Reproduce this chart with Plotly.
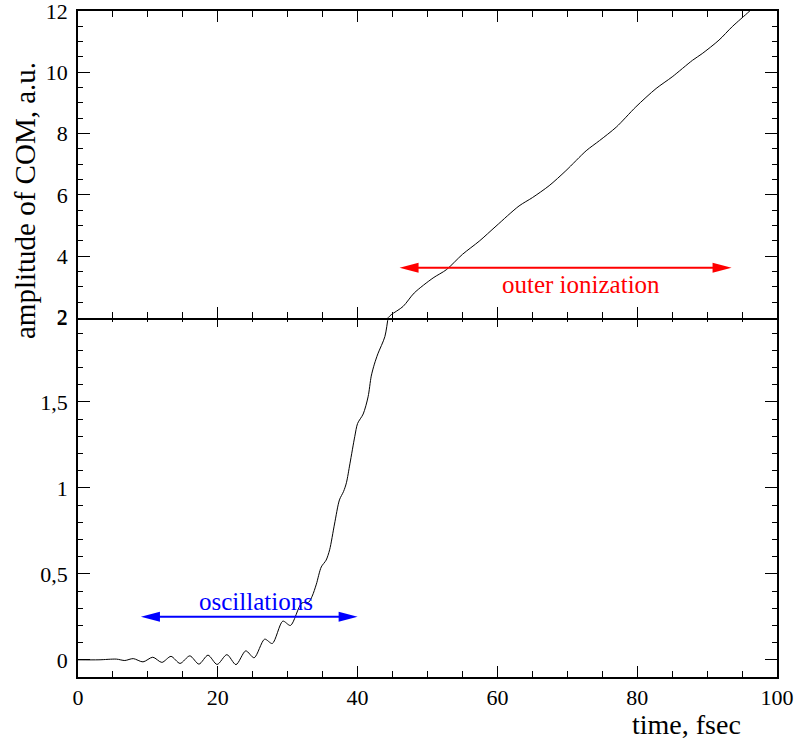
import plotly.graph_objects as go

# ---- data ----
time_fs = [0, 3, 5.5, 6.7, 7.9, 9.3, 10.7, 12.0, 13.3, 14.6, 16.0, 17.3, 18.6, 19.9,
           21.3, 22.6, 24.0, 25.2, 26.7, 27.8, 29.3, 30.4, 32.0, 33.0, 33.5, 34.1,
           34.8, 35.5, 36.0, 36.7, 37.4, 38.0, 38.4, 38.9, 39.6, 40.0, 40.8, 41.5,
           41.95, 42.4, 42.9, 43.9, 44.4, 44.8, 46.5, 48.1, 50.8, 52.7, 55.0, 57.4,
           59.8, 63.1, 65.0, 67.4, 69.8, 72.7, 74.6, 77.0, 79.8, 82.7, 85.0, 87.9,
           89.3, 91.7, 93.6, 96.0, 97.0]
amplitude = [0, 0, 0.004, -0.004, 0.007, -0.012, 0.015, -0.015, 0.02, -0.021, 0.023,
             -0.025, 0.027, -0.027, 0.03, -0.028, 0.052, 0.012, 0.12, 0.095, 0.225,
             0.2, 0.33, 0.335, 0.37, 0.44, 0.54, 0.58, 0.64, 0.79, 0.93, 0.98, 1.03,
             1.14, 1.30, 1.375, 1.43, 1.53, 1.65, 1.72, 1.78, 1.88, 2.0, 2.09, 2.36,
             2.80, 3.29, 3.56, 4.06, 4.49, 4.98, 5.64, 5.91, 6.30, 6.79, 7.44, 7.77,
             8.21, 8.87, 9.47, 9.85, 10.39, 10.61, 11.05, 11.49, 11.98, 12.2]

x_ticks = [0, 20, 40, 60, 80, 100]
low_ticks = [0, 0.5, 1, 1.5, 2]
low_tick_text = ["0", "0,5", "1", "1,5", "2"]
high_ticks = [2, 4, 6, 8, 10, 12]

osc_range = [9, 40]
osc_level = 0.25
ion_range = [46, 93.5]
ion_level = 3.62

FONT = '"Liberation Serif", "Times New Roman", Times, serif'

fig = go.Figure()
fig.add_trace(go.Scatter(x=time_fs, y=amplitude, mode="lines", xaxis="x", yaxis="y",
                         line=dict(color="black", width=1, shape="spline", smoothing=0.8),
                         showlegend=False, hoverinfo="skip"))
fig.add_trace(go.Scatter(x=time_fs, y=amplitude, mode="lines", xaxis="x2", yaxis="y2",
                         line=dict(color="black", width=1, shape="spline", smoothing=0.8),
                         showlegend=False, hoverinfo="skip"))

H = 666.0
split = 361 / H
LW = 1.5

axis_common = dict(showline=True, linecolor="black", linewidth=LW, mirror="ticks",
                   ticks="inside", tickcolor="black", tickwidth=1.2, showgrid=False,
                   zeroline=False, automargin=False, ticklabeloverflow="allow",
                   tickfont=dict(family=FONT, size=22, color="black"))

fig.update_layout(
    template="none",
    width=799, height=747,
    margin=dict(l=78, r=22, t=11, b=70),
    paper_bgcolor="white", plot_bgcolor="white",
    separators=", ",
    font=dict(family=FONT),
    xaxis=dict(range=[0, 100], tickvals=x_ticks, ticklen=11,
               minor=dict(dtick=5, tick0=0, ticklen=6, ticks="inside", tickcolor="black", tickwidth=1.2),
               anchor="y", domain=[0, 1], ticklabelstandoff=0, **axis_common),
    xaxis2=dict(range=[0, 100], tickvals=x_ticks, ticklen=11, showticklabels=False,
                minor=dict(dtick=5, tick0=0, ticklen=6, ticks="inside", tickcolor="black", tickwidth=1.2),
                anchor="y2", matches="x", domain=[0, 1], **axis_common),
    yaxis=dict(range=[-0.1, 2], tickvals=low_ticks, ticktext=low_tick_text, ticklen=12,
               minor=dict(dtick=0.1, tick0=0, ticklen=5, ticks="inside", tickcolor="black", tickwidth=1.2),
               domain=[0, split], anchor="x", ticklabelstandoff=4, **axis_common),
    yaxis2=dict(range=[2, 12], tickvals=high_ticks, ticklen=12,
                minor=dict(dtick=0.5, tick0=0, ticklen=5, ticks="inside", tickcolor="black", tickwidth=1.2),
                domain=[split - LW / H, 1], anchor="x2", ticklabelstandoff=4, **axis_common),
)

# arrows (line + triangular heads)
def add_arrow(xr, yval, xref, yref, color):
    fig.add_shape(type="line", x0=xr[0] + 1.5, x1=xr[1] - 1.5, y0=yval, y1=yval,
                  xref=xref, yref=yref, line=dict(color=color, width=2))
    fig.add_shape(type="path", xref=xref, yref=yref, xsizemode="pixel", ysizemode="pixel",
                  xanchor=xr[0], yanchor=yval, path="M0,0 L19,5 L19,-5 Z",
                  fillcolor=color, line=dict(color=color, width=0))
    fig.add_shape(type="path", xref=xref, yref=yref, xsizemode="pixel", ysizemode="pixel",
                  xanchor=xr[1], yanchor=yval, path="M0,0 L-19,5 L-19,-5 Z",
                  fillcolor=color, line=dict(color=color, width=0))

add_arrow(osc_range, osc_level, "x", "y", "#0000ff")
add_arrow(ion_range, ion_level, "x2", "y2", "#ff0000")

fig.add_annotation(x=25.4, y=0.34, xref="x", yref="y", text="oscillations", showarrow=False,
                   font=dict(family=FONT, size=25, color="#0000ff"), xanchor="center", yanchor="middle")
fig.add_annotation(x=71.9, y=3.08, xref="x2", yref="y2", text="outer ionization", showarrow=False,
                   font=dict(family=FONT, size=25, color="#ff0000"), xanchor="center", yanchor="middle")

fig.add_annotation(x=-0.076, y=0.716, xref="paper", yref="paper", text="amplitude of COM, a.u.",
                   textangle=-90, showarrow=False, xanchor="center", yanchor="middle",
                   font=dict(family=FONT, size=29, color="black"))
fig.add_annotation(x=0.870, y=-0.072, xref="paper", yref="paper", text="time, fsec",
                   showarrow=False, xanchor="center", yanchor="middle",
                   font=dict(family=FONT, size=28, color="black"))

fig.write_html("out.html", config={"displayModeBar": False},
               post_script="document.body.style.margin='0';document.body.style.overflow='hidden';")
